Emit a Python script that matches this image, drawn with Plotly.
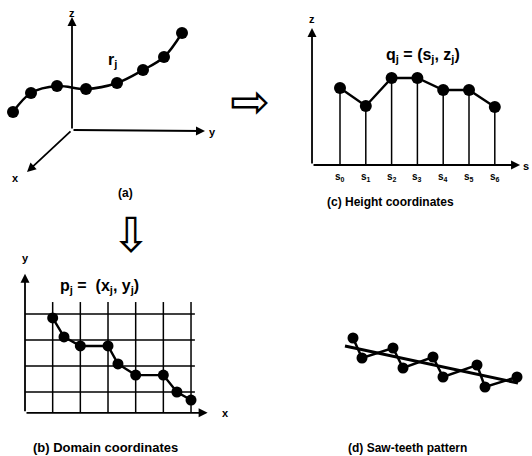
import plotly.graph_objects as go

W, H = 532, 456
FONT = "Liberation Sans"

# ---------------- data ----------------
# (a) 3D curve r_j, projected drawing units (origin = axes origin)
curve_a_x = [-5.9, -4.1, -1.5, 1.4, 4.5, 7.1, 9.2, 11.0]
curve_a_y = [1.8, 3.7, 4.4, 4.1, 4.7, 6.0, 7.3, 9.7]

# (c) height coordinates q_j = (s_j, z_j)
s_index = [0, 1, 2, 3, 4, 5, 6]
s_labels = ["s<sub>0</sub>", "s<sub>1</sub>", "s<sub>2</sub>", "s<sub>3</sub>",
            "s<sub>4</sub>", "s<sub>5</sub>", "s<sub>6</sub>"]
z_height = [3.85, 2.95, 4.35, 4.35, 3.75, 3.75, 2.9]

# (b) domain coordinates p_j = (x_j, y_j) on a grid
grid_cols = [0, 1, 2, 3, 4, 5, 6]
grid_rows = [1, 2, 3, 4]
dom_x = [1.0, 1.41, 2.0, 3.0, 3.36, 4.0, 5.0, 5.49, 6.0]
dom_y = [3.85, 3.12, 2.77, 2.77, 2.08, 1.65, 1.65, 1.0, 0.69]

# (d) saw-teeth pattern
saw_x = [0.8, 1.7, 4.8, 5.8, 8.8, 9.8, 13.2, 14.0, 17.2]
saw_y = [0.8, -1.2, -0.2, -2.2, -1.1, -3.1, -1.9, -4.1, -3.1]
trend_x = [0.0, 17.3]
trend_y = [0.0, -3.7]


def xr(px0, ppu):
    return [-px0 / ppu, (W - px0) / ppu]


def yr(py0, ppu):
    return [(py0 - H) / ppu, py0 / ppu]


fig = go.Figure()
BLK = "black"

# ---- panel (a) ----
fig.add_trace(go.Scatter(x=curve_a_x, y=curve_a_y, mode="lines+markers",
                         line=dict(color=BLK, width=2.4, shape="spline"),
                         marker=dict(size=12, color=BLK),
                         xaxis="x", yaxis="y", showlegend=False, hoverinfo="skip"))

# ---- panel (c) ----
s_org = -1.085
for i, z in zip(s_index, z_height):
    fig.add_trace(go.Scatter(x=[i, i], y=[0, z], mode="lines",
                             line=dict(color=BLK, width=1.5),
                             xaxis="x2", yaxis="y2", showlegend=False, hoverinfo="skip"))
fig.add_trace(go.Scatter(x=s_index, y=z_height, mode="lines+markers",
                         line=dict(color=BLK, width=2.4),
                         marker=dict(size=12, color=BLK),
                         xaxis="x2", yaxis="y2", showlegend=False, hoverinfo="skip"))

# ---- panel (b) ----
for c in grid_cols[1:]:
    fig.add_trace(go.Scatter(x=[c, c], y=[0.2, 4.46], mode="lines",
                             line=dict(color=BLK, width=1.5),
                             xaxis="x3", yaxis="y3", showlegend=False, hoverinfo="skip"))
for r in grid_rows:
    fig.add_trace(go.Scatter(x=[0, 6.14], y=[r, r], mode="lines",
                             line=dict(color=BLK, width=1.5),
                             xaxis="x3", yaxis="y3", showlegend=False, hoverinfo="skip"))
fig.add_trace(go.Scatter(x=dom_x, y=dom_y, mode="lines+markers",
                         line=dict(color=BLK, width=2.4),
                         marker=dict(size=11, color=BLK),
                         xaxis="x3", yaxis="y3", showlegend=False, hoverinfo="skip"))

# ---- panel (d) ----
fig.add_trace(go.Scatter(x=trend_x, y=trend_y, mode="lines",
                         line=dict(color=BLK, width=3),
                         xaxis="x4", yaxis="y4", showlegend=False, hoverinfo="skip"))
fig.add_trace(go.Scatter(x=saw_x, y=saw_y, mode="lines+markers",
                         line=dict(color=BLK, width=2.5),
                         marker=dict(size=11, color=BLK),
                         xaxis="x4", yaxis="y4", showlegend=False, hoverinfo="skip"))

ann = []


def arrow(ax_, ay_, x, y, xref, yref):
    ann.append(dict(x=x, y=y, ax=ax_, ay=ay_, xref=xref, yref=yref,
                    axref=xref, ayref=yref, showarrow=True, arrowhead=2,
                    arrowsize=1, arrowwidth=1.8, arrowcolor=BLK, text="",
                    standoff=0, startstandoff=0))


def label(x, y, text, xref, yref, size=12, xanchor="center", yanchor="middle"):
    ann.append(dict(x=x, y=y, xref=xref, yref=yref, text=text, showarrow=False,
                    font=dict(family=FONT, size=size, color=BLK),
                    xanchor=xanchor, yanchor=yanchor))


# axes of (a)
arrow(0, 0, 0, 11.3, "x", "y")
arrow(0, 0, 13.3, -0.1, "x", "y")
arrow(0, 0, -4.5, -4.2, "x", "y")
label(0, 11.7, "<b>z</b>", "x", "y", 11)
label(14.0, -0.2, "<b>y</b>", "x", "y", 11)
label(-5.7, -4.8, "<b>x</b>", "x", "y", 11)
label(4.0, 7.0, "<b>r<sub>j</sub></b>", "x", "y", 16)
label(5.3, -6.3, "<b>(a)</b>", "x", "y", 12)

# axes of (c)
arrow(s_org, 0, s_org, 6.85, "x2", "y2")
arrow(s_org, 0, 6.98, 0, "x2", "y2")
label(s_org, 7.3, "<b>z</b>", "x2", "y2", 11)
label(7.22, -0.05, "<b>s</b>", "x2", "y2", 11)
for i, t in zip(s_index, s_labels):
    label(i, -0.6, "<b>" + t + "</b>", "x2", "y2", 10)
label(3.2, 5.5, "<b>q<sub>j</sub> = (s<sub>j</sub>, z<sub>j</sub>)</b>", "x2", "y2", 16)
label(1.97, -1.85, "<b>(c) Height coordinates</b>", "x2", "y2", 12)

# axes of (b)
arrow(0, 0.2, 0, 5.55, "x3", "y3")
arrow(0, 0.2, 6.6, 0.2, "x3", "y3")
label(0, 6.15, "<b>y</b>", "x3", "y3", 11)
label(7.25, 0.2, "<b>x</b>", "x3", "y3", 11)
label(2.7, 5.05, "<b>p<sub>j</sub> =  (x<sub>j</sub>, y<sub>j</sub>)</b>", "x3", "y3", 16)
label(2.9, -1.15, "<b>(b) Domain coordinates</b>", "x3", "y3", 13)

# caption (d)
label(6.2, -10.2, "<b>(d) Saw-teeth pattern</b>", "x4", "y4", 12)

# hollow transition arrows
ann.append(dict(x=250 / W, y=1 - 101 / H, xref="paper", yref="paper", text="⇨",
                showarrow=False, font=dict(family="DejaVu Sans", size=48, color=BLK),
                xanchor="center", yanchor="middle"))
ann.append(dict(x=133 / W, y=1 - 235 / H, xref="paper", yref="paper", text="⇨",
                textangle=90,
                showarrow=False, font=dict(family="DejaVu Sans", size=48, color=BLK),
                xanchor="center", yanchor="middle"))

hidden = dict(visible=False, fixedrange=True)
fig.update_layout(
    width=W, height=H, autosize=False,
    margin=dict(l=0, r=0, t=0, b=0, pad=0),
    paper_bgcolor="white", plot_bgcolor="rgba(0,0,0,0)",
    showlegend=False,
    xaxis=dict(range=xr(72, 10), domain=[0, 1], **hidden),
    yaxis=dict(range=yr(130, 10), domain=[0, 1], **hidden),
    xaxis2=dict(range=xr(340, 25.8), domain=[0, 1], anchor="y2", overlaying="x", **hidden),
    yaxis2=dict(range=yr(165, 20), domain=[0, 1], anchor="x2", overlaying="y", **hidden),
    xaxis3=dict(range=xr(25, 27.67), domain=[0, 1], anchor="y3", overlaying="x", **hidden),
    yaxis3=dict(range=yr(418, 26), domain=[0, 1], anchor="x3", overlaying="y", **hidden),
    xaxis4=dict(range=xr(345, 10), domain=[0, 1], anchor="y4", overlaying="x", **hidden),
    yaxis4=dict(range=yr(346, 10), domain=[0, 1], anchor="x4", overlaying="y", **hidden),
    annotations=ann,
)

fig.write_html("out.html", config={"displayModeBar": False},
               post_script="document.body.style.margin='0px';document.body.style.overflow='hidden';")
